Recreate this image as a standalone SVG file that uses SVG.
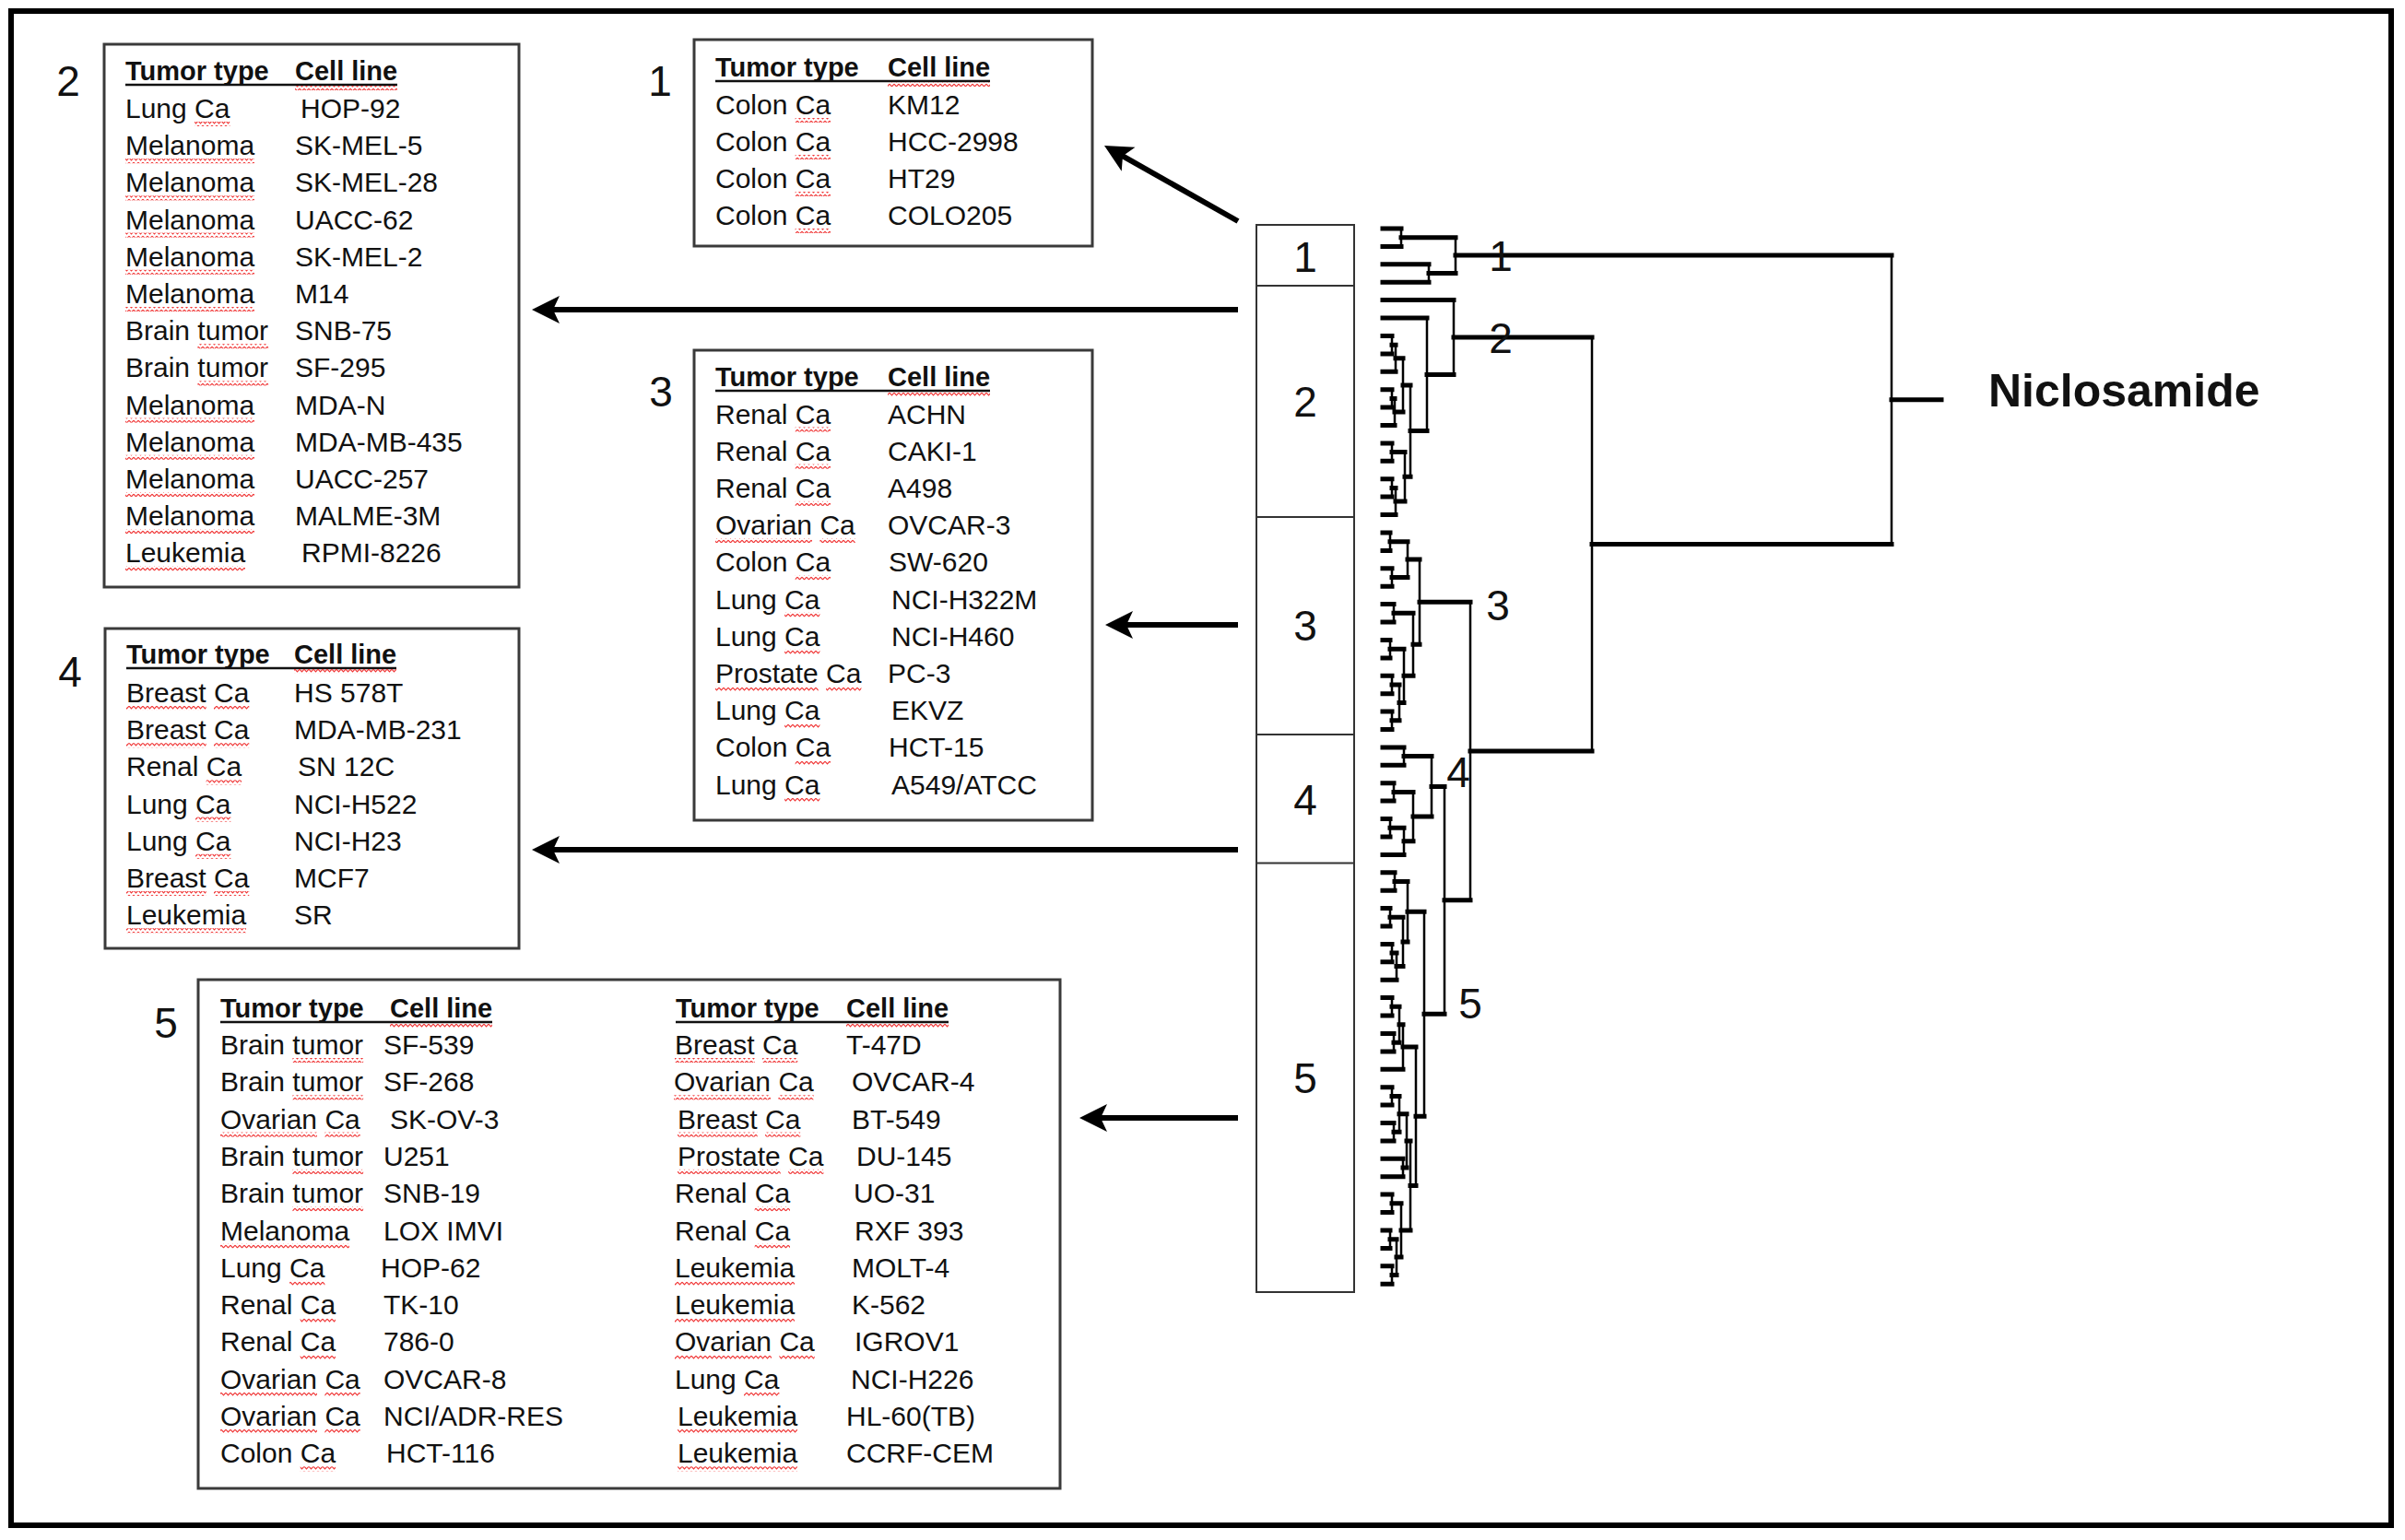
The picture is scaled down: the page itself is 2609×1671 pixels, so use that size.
<svg xmlns="http://www.w3.org/2000/svg" width="2609" height="1671" viewBox="0 0 2609 1671">
<defs>
<pattern id="sq" width="5" height="5" patternUnits="userSpaceOnUse"><path d="M0 1.2 L2.5 3.8 L5 1.2" fill="none" stroke="#f03434" stroke-width="1.2"/></pattern>
<marker id="ah" markerUnits="userSpaceOnUse" markerWidth="32" markerHeight="32" viewBox="0 0 32 32" refX="10" refY="16" orient="auto"><path d="M30 16 L0 1 L7 16 L0 31 Z" fill="#000"/></marker>
</defs>
<style>
.box{fill:#fff;stroke:#3a3a3a;stroke-width:3}
.t{font-family:"Liberation Sans",Arial,sans-serif;font-size:30px;fill:#111}
.hd{font-weight:bold;font-size:29px}
.ul{stroke:#111;stroke-width:2.5}
.sq{fill:url(#sq)}
.num{font-family:"Liberation Sans",Arial,sans-serif;font-size:46px;fill:#111;text-anchor:middle}
.arrow{stroke:#000;stroke-width:6;fill:none;marker-end:url(#ah)}
.dh{stroke:#000;stroke-width:5;fill:none;stroke-linecap:square}
.dv{stroke:#000;stroke-width:2.5;fill:none;stroke-linecap:square}
.bar{fill:none;stroke:#333;stroke-width:2}
</style>
<rect x="0" y="0" width="2609" height="1671" fill="#fff"/>
<rect id="frame" x="12" y="12" width="2582" height="1643" fill="none" stroke="#000" stroke-width="6"/>

<g id="box1">
<rect class="box" x="753" y="43" width="432" height="224"/>
<g class="t">
<text class="hd" x="776" y="83">Tumor type</text><text class="hd" x="963" y="83">Cell line</text>
<text x="776" y="124">Colon Ca</text><text x="963" y="124">KM12</text>
<text x="776" y="164">Colon Ca</text><text x="963" y="164">HCC-2998</text>
<text x="776" y="204">Colon Ca</text><text x="963" y="204">HT29</text>
<text x="776" y="244">Colon Ca</text><text x="963" y="244">COLO205</text>
</g>
<line class="ul" x1="776" y1="88" x2="1074" y2="88"/>
<rect class="sq" x="963" y="89" width="111" height="5"/>
<rect class="sq" x="862.7" y="128" width="38.3" height="5"/>
<rect class="sq" x="862.7" y="168" width="38.3" height="5"/>
<rect class="sq" x="862.7" y="208" width="38.3" height="5"/>
<rect class="sq" x="862.7" y="248" width="38.3" height="5"/>
<text class="num" x="716" y="104">1</text>
</g>

<g id="box2">
<rect class="box" x="113" y="48" width="450" height="589"/>
<g class="t">
<text class="hd" x="136" y="87">Tumor type</text><text class="hd" x="320" y="87">Cell line</text>
<text x="136" y="128">Lung Ca</text><text x="326" y="128">HOP-92</text>
<text x="136" y="168.2">Melanoma</text><text x="320" y="168.2">SK-MEL-5</text>
<text x="136" y="208.4">Melanoma</text><text x="320" y="208.4">SK-MEL-28</text>
<text x="136" y="248.6">Melanoma</text><text x="320" y="248.6">UACC-62</text>
<text x="136" y="288.8">Melanoma</text><text x="320" y="288.8">SK-MEL-2</text>
<text x="136" y="329">Melanoma</text><text x="320" y="329">M14</text>
<text x="136" y="369.2">Brain tumor</text><text x="320" y="369.2">SNB-75</text>
<text x="136" y="409.4">Brain tumor</text><text x="320" y="409.4">SF-295</text>
<text x="136" y="449.6">Melanoma</text><text x="320" y="449.6">MDA-N</text>
<text x="136" y="489.8">Melanoma</text><text x="320" y="489.8">MDA-MB-435</text>
<text x="136" y="530">Melanoma</text><text x="320" y="530">UACC-257</text>
<text x="136" y="570.2">Melanoma</text><text x="320" y="570.2">MALME-3M</text>
<text x="136" y="610.4">Leukemia</text><text x="327" y="610.4">RPMI-8226</text>
</g>
<line class="ul" x1="136" y1="92" x2="431" y2="92"/>
<rect class="sq" x="320" y="93" width="111" height="5"/>
<rect class="sq" x="211.1" y="132" width="38.3" height="5"/>
<rect class="sq" x="136" y="172.2" width="140" height="5"/>
<rect class="sq" x="136" y="212.4" width="140" height="5"/>
<rect class="sq" x="136" y="252.6" width="140" height="5"/>
<rect class="sq" x="136" y="292.8" width="140" height="5"/>
<rect class="sq" x="136" y="333" width="140" height="5"/>
<rect class="sq" x="214.4" y="373.2" width="76.7" height="5"/>
<rect class="sq" x="214.4" y="413.4" width="76.7" height="5"/>
<rect class="sq" x="136" y="453.6" width="140" height="5"/>
<rect class="sq" x="136" y="493.8" width="140" height="5"/>
<rect class="sq" x="136" y="534" width="140" height="5"/>
<rect class="sq" x="136" y="574.2" width="140" height="5"/>
<rect class="sq" x="136" y="614.4" width="130" height="5"/>
<text class="num" x="74" y="104">2</text>
</g>

<g id="box3">
<rect class="box" x="753" y="380" width="432" height="510"/>
<g class="t">
<text class="hd" x="776" y="419">Tumor type</text><text class="hd" x="963" y="419">Cell line</text>
<text x="776" y="459.5">Renal Ca</text><text x="963" y="459.5">ACHN</text>
<text x="776" y="499.7">Renal Ca</text><text x="963" y="499.7">CAKI-1</text>
<text x="776" y="539.9">Renal Ca</text><text x="963" y="539.9">A498</text>
<text x="776" y="580.1">Ovarian Ca</text><text x="963" y="580.1">OVCAR-3</text>
<text x="776" y="620.3">Colon Ca</text><text x="964" y="620.3">SW-620</text>
<text x="776" y="660.5">Lung Ca</text><text x="967" y="660.5">NCI-H322M</text>
<text x="776" y="700.7">Lung Ca</text><text x="967" y="700.7">NCI-H460</text>
<text x="776" y="740.9">Prostate Ca</text><text x="963" y="740.9">PC-3</text>
<text x="776" y="781.1">Lung Ca</text><text x="967" y="781.1">EKVZ</text>
<text x="776" y="821.3">Colon Ca</text><text x="964" y="821.3">HCT-15</text>
<text x="776" y="861.5">Lung Ca</text><text x="967" y="861.5">A549/ATCC</text>
</g>
<line class="ul" x1="776" y1="424" x2="1074" y2="424"/>
<rect class="sq" x="963" y="425" width="111" height="5"/>
<rect class="sq" x="862.7" y="463.5" width="38.3" height="5"/>
<rect class="sq" x="862.7" y="503.7" width="38.3" height="5"/>
<rect class="sq" x="862.7" y="543.9" width="38.3" height="5"/>
<rect class="sq" x="776" y="584.1" width="105" height="5"/>
<rect class="sq" x="889.4" y="584.1" width="38.3" height="5"/>
<rect class="sq" x="862.7" y="624.3" width="38.3" height="5"/>
<rect class="sq" x="851.1" y="664.5" width="38.3" height="5"/>
<rect class="sq" x="851.1" y="704.7" width="38.3" height="5"/>
<rect class="sq" x="776" y="744.9" width="111.7" height="5"/>
<rect class="sq" x="896.1" y="744.9" width="38.3" height="5"/>
<rect class="sq" x="851.1" y="785.1" width="38.3" height="5"/>
<rect class="sq" x="862.7" y="825.3" width="38.3" height="5"/>
<rect class="sq" x="851.1" y="865.5" width="38.3" height="5"/>
<text class="num" x="717" y="441">3</text>
</g>

<g id="box4">
<rect class="box" x="114" y="682" width="449" height="347"/>
<g class="t">
<text class="hd" x="137" y="720">Tumor type</text><text class="hd" x="319" y="720">Cell line</text>
<text x="137" y="762">Breast Ca</text><text x="319" y="762">HS 578T</text>
<text x="137" y="802.2">Breast Ca</text><text x="319" y="802.2">MDA-MB-231</text>
<text x="137" y="842.4">Renal Ca</text><text x="323" y="842.4">SN 12C</text>
<text x="137" y="882.6">Lung Ca</text><text x="319" y="882.6">NCI-H522</text>
<text x="137" y="922.8">Lung Ca</text><text x="319" y="922.8">NCI-H23</text>
<text x="137" y="963">Breast Ca</text><text x="319" y="963">MCF7</text>
<text x="137" y="1003.2">Leukemia</text><text x="319" y="1003.2">SR</text>
</g>
<line class="ul" x1="137" y1="725" x2="430" y2="725"/>
<rect class="sq" x="319" y="726" width="111" height="5"/>
<rect class="sq" x="137" y="766" width="86.7" height="5"/>
<rect class="sq" x="232" y="766" width="38.3" height="5"/>
<rect class="sq" x="137" y="806.2" width="86.7" height="5"/>
<rect class="sq" x="232" y="806.2" width="38.3" height="5"/>
<rect class="sq" x="223.7" y="846.4" width="38.3" height="5"/>
<rect class="sq" x="212.1" y="886.6" width="38.3" height="5"/>
<rect class="sq" x="212.1" y="926.8" width="38.3" height="5"/>
<rect class="sq" x="137" y="967" width="86.7" height="5"/>
<rect class="sq" x="232" y="967" width="38.3" height="5"/>
<rect class="sq" x="137" y="1007.2" width="130" height="5"/>
<text class="num" x="76" y="745">4</text>
</g>

<g id="box5">
<rect class="box" x="215" y="1063" width="935" height="552"/>
<g class="t">
<text class="hd" x="239" y="1104">Tumor type</text><text class="hd" x="423" y="1104">Cell line</text>
<text class="hd" x="733" y="1104">Tumor type</text><text class="hd" x="918" y="1104">Cell line</text>
<text x="239" y="1144">Brain tumor</text><text x="416" y="1144">SF-539</text>
<text x="239" y="1184.3">Brain tumor</text><text x="416" y="1184.3">SF-268</text>
<text x="239" y="1224.6">Ovarian Ca</text><text x="423" y="1224.6">SK-OV-3</text>
<text x="239" y="1264.9">Brain tumor</text><text x="416" y="1264.9">U251</text>
<text x="239" y="1305.2">Brain tumor</text><text x="416" y="1305.2">SNB-19</text>
<text x="239" y="1345.5">Melanoma</text><text x="416" y="1345.5">LOX IMVI</text>
<text x="239" y="1385.8">Lung Ca</text><text x="413" y="1385.8">HOP-62</text>
<text x="239" y="1426.1">Renal Ca</text><text x="416" y="1426.1">TK-10</text>
<text x="239" y="1466.4">Renal Ca</text><text x="416" y="1466.4">786-0</text>
<text x="239" y="1506.7">Ovarian Ca</text><text x="416" y="1506.7">OVCAR-8</text>
<text x="239" y="1547">Ovarian Ca</text><text x="416" y="1547">NCI/ADR-RES</text>
<text x="239" y="1587.3">Colon Ca</text><text x="419" y="1587.3">HCT-116</text>
<text x="732" y="1144">Breast Ca</text><text x="918" y="1144">T-47D</text>
<text x="731" y="1184.3">Ovarian Ca</text><text x="924" y="1184.3">OVCAR-4</text>
<text x="735" y="1224.6">Breast Ca</text><text x="924" y="1224.6">BT-549</text>
<text x="735" y="1264.9">Prostate Ca</text><text x="929" y="1264.9">DU-145</text>
<text x="732" y="1305.2">Renal Ca</text><text x="926" y="1305.2">UO-31</text>
<text x="732" y="1345.5">Renal Ca</text><text x="927" y="1345.5">RXF 393</text>
<text x="732" y="1385.8">Leukemia</text><text x="924" y="1385.8">MOLT-4</text>
<text x="732" y="1426.1">Leukemia</text><text x="924" y="1426.1">K-562</text>
<text x="732" y="1466.4">Ovarian Ca</text><text x="927" y="1466.4">IGROV1</text>
<text x="732" y="1506.7">Lung Ca</text><text x="923" y="1506.7">NCI-H226</text>
<text x="735" y="1547">Leukemia</text><text x="918" y="1547">HL-60(TB)</text>
<text x="735" y="1587.3">Leukemia</text><text x="918" y="1587.3">CCRF-CEM</text>
</g>
<line class="ul" x1="239" y1="1109" x2="534" y2="1109"/>
<line class="ul" x1="733" y1="1109" x2="1029" y2="1109"/>
<rect class="sq" x="423" y="1110" width="111" height="5"/>
<rect class="sq" x="918" y="1110" width="111" height="5"/>
<rect class="sq" x="317.4" y="1148" width="76.7" height="5"/>
<rect class="sq" x="317.4" y="1188.3" width="76.7" height="5"/>
<rect class="sq" x="239" y="1228.6" width="105" height="5"/>
<rect class="sq" x="352.4" y="1228.6" width="38.3" height="5"/>
<rect class="sq" x="317.4" y="1268.9" width="76.7" height="5"/>
<rect class="sq" x="317.4" y="1309.2" width="76.7" height="5"/>
<rect class="sq" x="239" y="1349.5" width="140" height="5"/>
<rect class="sq" x="314.1" y="1389.8" width="38.3" height="5"/>
<rect class="sq" x="325.7" y="1430.1" width="38.3" height="5"/>
<rect class="sq" x="325.7" y="1470.4" width="38.3" height="5"/>
<rect class="sq" x="239" y="1510.7" width="105" height="5"/>
<rect class="sq" x="352.4" y="1510.7" width="38.3" height="5"/>
<rect class="sq" x="239" y="1551" width="105" height="5"/>
<rect class="sq" x="352.4" y="1551" width="38.3" height="5"/>
<rect class="sq" x="325.7" y="1591.3" width="38.3" height="5"/>
<rect class="sq" x="732" y="1148" width="86.7" height="5"/>
<rect class="sq" x="827" y="1148" width="38.3" height="5"/>
<rect class="sq" x="731" y="1188.3" width="105" height="5"/>
<rect class="sq" x="844.4" y="1188.3" width="38.3" height="5"/>
<rect class="sq" x="735" y="1228.6" width="86.7" height="5"/>
<rect class="sq" x="830" y="1228.6" width="38.3" height="5"/>
<rect class="sq" x="735" y="1268.9" width="111.7" height="5"/>
<rect class="sq" x="855.1" y="1268.9" width="38.3" height="5"/>
<rect class="sq" x="818.7" y="1309.2" width="38.3" height="5"/>
<rect class="sq" x="818.7" y="1349.5" width="38.3" height="5"/>
<rect class="sq" x="732" y="1389.8" width="130" height="5"/>
<rect class="sq" x="732" y="1430.1" width="130" height="5"/>
<rect class="sq" x="732" y="1470.4" width="105" height="5"/>
<rect class="sq" x="845.4" y="1470.4" width="38.3" height="5"/>
<rect class="sq" x="807.1" y="1510.7" width="38.3" height="5"/>
<rect class="sq" x="735" y="1551" width="130" height="5"/>
<rect class="sq" x="735" y="1591.3" width="130" height="5"/>
<text class="num" x="180" y="1126">5</text>
</g>

<g id="cluster-bar">
<rect class="bar" x="1363" y="244" width="106" height="1158"/>
<line class="bar" x1="1363" y1="310" x2="1469" y2="310"/>
<line class="bar" x1="1363" y1="561" x2="1469" y2="561"/>
<line class="bar" x1="1363" y1="797" x2="1469" y2="797"/>
<line class="bar" x1="1363" y1="936.5" x2="1469" y2="936.5"/>
<text class="num" x="1416" y="295">1</text>
<text class="num" x="1416" y="452">2</text>
<text class="num" x="1416" y="695">3</text>
<text class="num" x="1416" y="884">4</text>
<text class="num" x="1416" y="1186">5</text>
</g>

<g id="dendrogram">
<path class="dh" d="M1500 248H1520 M1500 267.4H1520 M1500 286.8H1550 M1500 306.2H1550 M1520 257.7H1579 M1550 296.5H1579 M1579 277.1H2052
M1500 325.6H1577 M1500 345.1H1548 M1500 364.5H1510 M1500 383.9H1510 M1510 374.2H1514 M1500 403.3H1514 M1514 388.8H1522 M1500 422.7H1510 M1500 442.1H1510 M1510 432.4H1513 M1500 461.5H1513 M1513 447H1522 M1522 417.9H1530 M1500 480.9H1510 M1500 500.3H1510 M1510 490.6H1524 M1500 519.7H1510 M1500 539.1H1510 M1510 529.4H1514 M1500 558.5H1514 M1514 544H1524 M1524 517.3H1530 M1530 467.6H1548 M1548 406.4H1577 M1577 366H1727
M1500 578H1508 M1500 597.4H1508 M1508 587.7H1527 M1500 616.8H1510 M1500 636.2H1510 M1510 626.5H1527 M1527 607.1H1540 M1500 655.6H1512 M1500 675H1512 M1512 665.3H1533 M1500 694.5H1508 M1500 713.9H1508 M1508 704.2H1523 M1500 733.3H1510 M1500 752.7H1510 M1510 743H1518 M1500 772.1H1510 M1500 791.5H1510 M1510 781.8H1518 M1518 762.4H1523 M1523 733.3H1533 M1533 699.3H1540 M1540 653.2H1595
M1500 810.9H1523 M1500 830.3H1523 M1523 820.6H1553 M1500 849.7H1512 M1500 869.1H1512 M1512 859.4H1533 M1500 888.5H1508 M1500 908H1508 M1508 898.2H1523 M1500 927.4H1523 M1523 912.8H1533 M1533 886.1H1553 M1553 853.4H1567
M1500 946.8H1513 M1500 966.2H1513 M1513 956.5H1527 M1500 985.6H1508 M1500 1005H1508 M1508 995.3H1522 M1500 1024.4H1510 M1500 1043.8H1510 M1510 1034.1H1515 M1500 1063.2H1515 M1515 1048.6H1522 M1522 1022H1527 M1527 989.2H1545 M1500 1082.6H1510 M1500 1102H1510 M1510 1092.3H1518 M1500 1121.5H1512 M1500 1140.9H1512 M1512 1131.2H1518 M1518 1111.8H1522 M1500 1160.3H1522 M1522 1136H1536 M1500 1179.7H1510 M1500 1199.1H1510 M1510 1189.4H1518 M1500 1218.5H1512 M1500 1237.9H1512 M1512 1228.2H1518 M1518 1208.8H1526 M1500 1257.3H1522 M1500 1276.7H1522 M1522 1267H1526 M1526 1237.9H1530 M1500 1296.1H1510 M1500 1315.5H1510 M1510 1305.8H1520 M1500 1334.9H1508 M1500 1354.4H1508 M1508 1344.7H1515 M1500 1373.8H1510 M1500 1393.2H1510 M1510 1383.5H1515 M1515 1364.1H1520 M1520 1335H1530 M1530 1286.4H1536 M1536 1211.2H1545 M1545 1100.2H1567
M1567 976.8H1595 M1595 815H1727 M1727 590.5H2052 M2052 433.8H2106"/>
<path class="dv" d="M1520 248V267.4 M1550 286.8V306.2 M1579 257.7V296.5
M1510 364.5V383.9 M1514 374.2V403.3 M1510 422.7V442.1 M1513 432.4V461.5 M1522 388.8V447 M1510 480.9V500.3 M1510 519.7V539.1 M1514 529.4V558.5 M1524 490.6V544 M1530 417.9V517.3 M1548 345.1V467.6 M1577 325.6V406.4
M1508 578V597.4 M1510 616.8V636.2 M1527 587.7V626.5 M1512 655.6V675 M1508 694.5V713.9 M1510 733.3V752.7 M1510 772.1V791.5 M1518 743V781.8 M1523 704.2V762.4 M1533 665.3V733.3 M1540 607.1V699.3
M1523 810.9V830.3 M1512 849.7V869.1 M1508 888.5V908 M1523 898.2V927.4 M1533 859.4V912.8 M1553 820.6V886.1
M1513 946.8V966.2 M1508 985.6V1005 M1510 1024.4V1043.8 M1515 1034.1V1063.2 M1522 995.3V1048.6 M1527 956.5V1022 M1510 1082.6V1102 M1512 1121.5V1140.9 M1518 1092.3V1131.2 M1522 1111.8V1160.3 M1510 1179.7V1199.1 M1512 1218.5V1237.9 M1518 1189.4V1228.2 M1522 1257.3V1276.7 M1526 1208.8V1267 M1510 1296.1V1315.5 M1508 1334.9V1354.4 M1510 1373.8V1393.2 M1515 1344.7V1383.5 M1520 1305.8V1364.1 M1530 1237.9V1335 M1536 1136V1286.4 M1545 989.2V1211.2
M1567 853.4V1100.2 M1595 653.2V976.8 M1727 366V815 M2052 277.1V590.5"/>
<text class="num" x="1628" y="294">1</text>
<text class="num" x="1628" y="383">2</text>
<text class="num" x="1625" y="673">3</text>
<text class="num" x="1582" y="854">4</text>
<text class="num" x="1595" y="1105">5</text>
</g>

<g id="niclosamide">
<text x="2157" y="441" style="font-family:'Liberation Sans',Arial,sans-serif;font-weight:bold;font-size:50px;fill:#111">Niclosamide</text>
</g>

<g id="connectors">
<line class="arrow" x1="1343" y1="240" x2="1215.4" y2="167.8"/>
<line class="arrow" x1="1343" y1="336" x2="597" y2="336"/>
<line class="arrow" x1="1343" y1="678" x2="1219" y2="678"/>
<line class="arrow" x1="1343" y1="922" x2="597" y2="922"/>
<line class="arrow" x1="1343" y1="1213" x2="1191" y2="1213"/>
</g>
</svg>
